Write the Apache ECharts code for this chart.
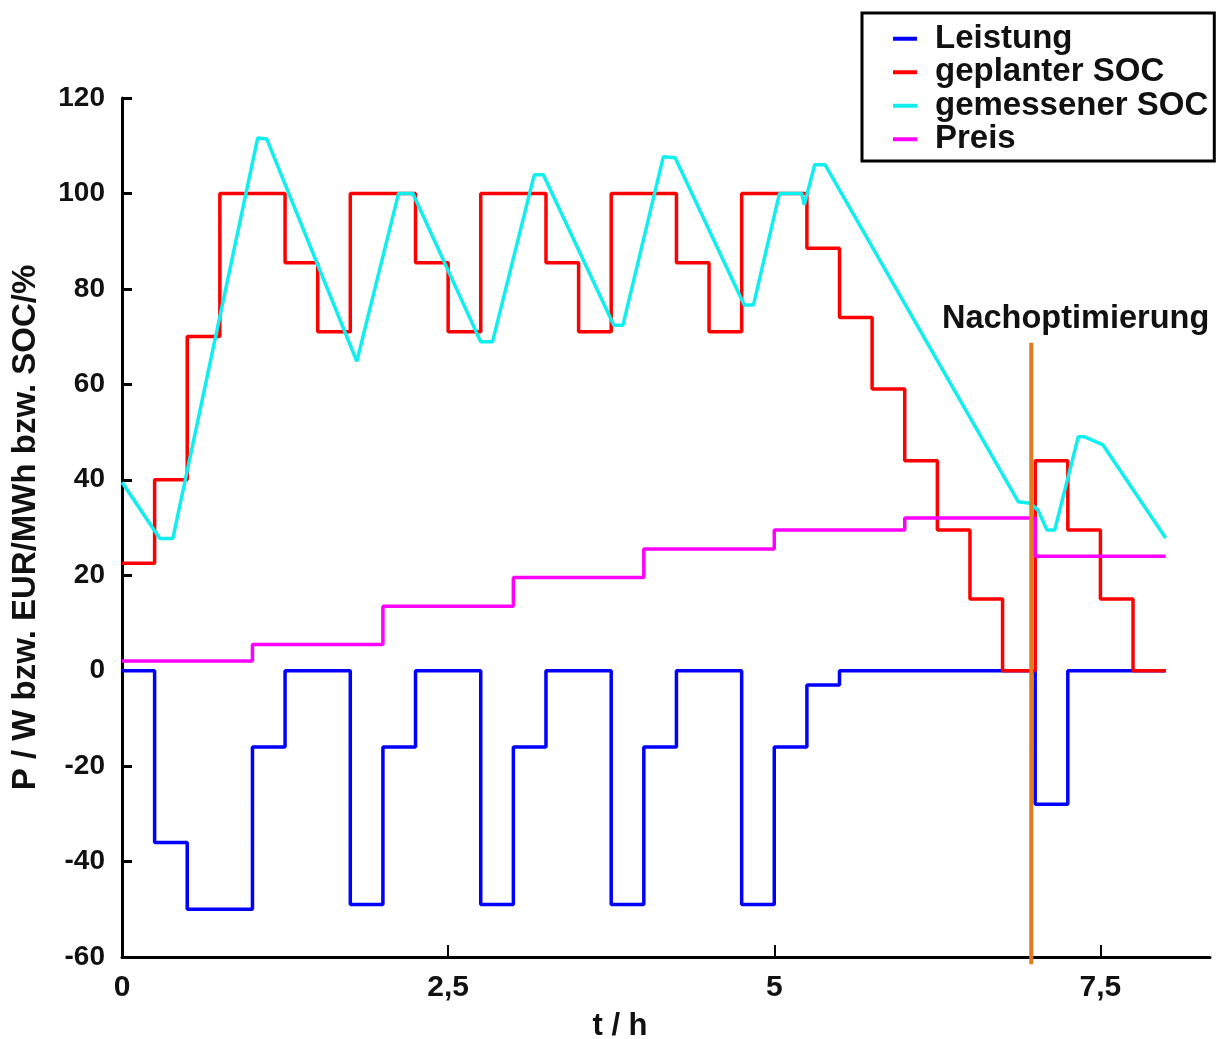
<!DOCTYPE html>
<html>
<head>
<meta charset="utf-8">
<script src="https://cdn.jsdelivr.net/npm/echarts@6/dist/echarts.min.js"></script>
<style>
html,body{margin:0;padding:0;background:#fff;}
#chart{width:1216px;height:1039px;}
</style>
</head>
<body>
<div id="chart"></div>
<script>
// ---- data (t in hours) ----
const tLeistung = [0,0.25,0.5,1,1.25,1.75,2,2.25,2.75,3,3.25,3.75,4,4.25,4.75,5,5.25,5.5,7,7.25,8];
const leistung  = [0,-36,-50,-16,0,-49,-16,0,-49,-16,0,-49,-16,0,-49,-16,-3,0,-28,0,0];

const tSocPlan = [0,0.25,0.5,0.75,1.25,1.5,1.75,2.25,2.5,2.75,3.25,3.5,3.75,4.25,4.5,4.75,5.25,5.5,5.75,6,6.25,6.5,6.75,7,7.25,7.5,7.75,8];
const socPlan  = [22.5,40,70,100,85.5,71,100,85.5,71,100,85.5,71,100,85.5,71,100,88.5,74,59,44,29.5,15,0,44,29.5,15,0,0];

const tSocMeas = [0,0.29,0.39,1.04,1.11,1.80,2.12,2.23,2.75,2.84,3.16,3.23,3.77,3.84,4.15,4.24,4.77,4.84,5.04,5.21,5.23,5.31,5.39,6.87,6.96,7.02,7.09,7.15,7.33,7.38,7.52,8.0];
const socMeas  = [39.5,27.7,27.7,111.6,111.4,64.8,100,100,68.9,68.9,103.9,103.9,72.4,72.4,107.7,107.5,76.6,76.6,100,100,97.6,106,106,35.4,35.1,33.7,29.5,29.5,49,49,47.3,27.8];

const tPreis = [0,1,2,3,4,5,6,7,8];
const preis  = [2,5.5,13.5,19.5,25.5,29.5,32,24,24];

const tNachopt = [6.97,6.97];
const yNachopt = [68.7,-61.5];

const xTicks = [0,2.5,5,7.5];
const yMin = -60, yMax = 120, yStep = 20;

const seriesNames = ['Leistung','geplanter SOC','gemessener SOC','Preis'];
const annotation = 'Nachoptimierung';
const xName = 't / h';
const yName = 'P / W bzw. EUR/MWh bzw. SOC/%';

function pairs(xs, ys){ return xs.map((x,i)=>[x, ys[i]]); }

const FONT = '"Liberation Sans", Arial, Helvetica, sans-serif';
const chart = echarts.init(document.getElementById('chart'), null, {renderer:'canvas'});

chart.setOption({
  animation:false,
  backgroundColor:'#fff',
  textStyle:{fontFamily:FONT},
  grid:{left:122, right:6, top:98, bottom:82},
  legend:{
    data:seriesNames,
    orient:'vertical',
    left:862, top:13,
    padding:[9,6,5,31],
    itemGap:0,
    itemWidth:24, itemHeight:4,
    icon:'rect',
    borderColor:'#000', borderWidth:3,
    textStyle:{fontSize:33, fontWeight:'bold', color:'#111', fontFamily:FONT, lineHeight:33.5, padding:[0,0,0,13]}
  },
  xAxis:{
    type:'value', min:0, max:8.34,
    axisLine:{show:true, onZero:false, lineStyle:{color:'#000', width:3}},
    axisTick:{show:true, inside:true, length:12, lineStyle:{color:'#000', width:2}, customValues:xTicks},
    axisLabel:{show:true, customValues:xTicks, margin:16, fontSize:30, fontWeight:'bold', color:'#111', fontFamily:FONT,
      formatter:v=>String(v).replace('.',',')},
    splitLine:{show:false}
  },
  yAxis:{
    type:'value', min:yMin, max:yMax, interval:yStep,
    name:yName, nameLocation:'middle', nameGap:80, nameRotate:90,
    nameTextStyle:{fontSize:33, fontWeight:'bold', color:'#111', fontFamily:FONT},
    axisLine:{show:true, lineStyle:{color:'#000', width:3}},
    axisTick:{show:true, inside:true, length:10, lineStyle:{color:'#000', width:3}},
    axisLabel:{margin:17, fontSize:28, fontWeight:'bold', color:'#111', fontFamily:FONT},
    splitLine:{show:false}
  },
  graphic:[
    {type:'text', left:942, top:303, style:{text:annotation, fontSize:32.5, fontWeight:'bold', fill:'#111', fontFamily:FONT}},
    {type:'text', x:620, y:1026, style:{text:xName, fontSize:31, fontWeight:'bold', fill:'#111', fontFamily:FONT, align:'center', verticalAlign:'middle'}}
  ],
  series:[
    {name:'Leistung', type:'line', step:'end', showSymbol:false, symbol:'none', data:pairs(tLeistung, leistung),
      lineStyle:{color:'#0000ff', width:3.5}, itemStyle:{color:'#0000ff'}},
    {name:'geplanter SOC', type:'line', step:'end', showSymbol:false, symbol:'none', data:pairs(tSocPlan, socPlan),
      lineStyle:{color:'#ff0000', width:3.5}, itemStyle:{color:'#ff0000'}},
    {name:'Preis', type:'line', step:'end', showSymbol:false, symbol:'none', data:pairs(tPreis, preis),
      lineStyle:{color:'#ff00ff', width:3.5}, itemStyle:{color:'#ff00ff'}},
    {name:'gemessener SOC', type:'line', showSymbol:false, symbol:'none', data:pairs(tSocMeas, socMeas),
      lineStyle:{color:'#10eeee', width:3.5}, itemStyle:{color:'#10eeee'}},
    {name:'Nachopt', type:'line', showSymbol:false, symbol:'none', clip:false, data:pairs(tNachopt, yNachopt),
      lineStyle:{color:'#e07b1f', width:4}, itemStyle:{color:'#e07b1f'}, z:5}
  ]
});
</script>
</body>
</html>
